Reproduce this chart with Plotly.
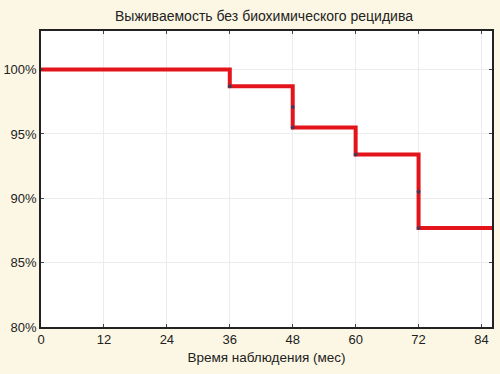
import plotly.graph_objects as go

step_times = [0, 36, 48, 60, 72, 86]
survival = [100.0, 98.7, 95.5, 93.4, 87.7, 87.7]
event_times = [36, 48, 48, 60, 72, 72]
event_surv = [98.7, 97.1, 95.5, 93.4, 90.5, 87.7]
x_ticks = [0, 12, 24, 36, 48, 60, 72, 84]
y_ticks = [80, 85, 90, 95, 100]
y_tick_labels = ["80%", "85%", "90%", "95%", "100%"]

fig = go.Figure()
fig.add_trace(go.Scatter(x=step_times, y=survival, mode="lines",
                         line=dict(color="#e3151b", width=4, shape="hv"),
                         hoverinfo="skip", showlegend=False))
fig.add_trace(go.Scatter(x=event_times, y=event_surv, mode="markers",
                         marker=dict(color="#4a3a5a", size=4),
                         showlegend=False))

fig.update_layout(
    width=500, height=374,
    paper_bgcolor="#fcf7e4", plot_bgcolor="white",
    margin=dict(l=41, r=8, t=31, b=47),
    font=dict(family="Liberation Sans, Arial, sans-serif", size=13, color="#222"),
    title=dict(text="Выживаемость без биохимического рецидива", x=0.528, xanchor="center",
               y=0.957, yanchor="middle", font=dict(size=14)),
)
fig.update_xaxes(range=[0, 86], tickvals=x_ticks, showgrid=True, gridcolor="#ececec",
                 showline=True, linecolor="#222", linewidth=1.5, mirror="ticks",
                 ticks="inside", ticklen=3, tickcolor="#444", zeroline=False,
                 automargin=False,
                 title=dict(text="Время наблюдения (мес)", font=dict(size=13.5), standoff=6))
fig.update_yaxes(range=[80, 103], tickvals=y_ticks, ticktext=y_tick_labels,
                 showgrid=True, gridcolor="#ececec", automargin=False,
                 showline=True, linecolor="#222", linewidth=1.5, mirror="ticks",
                 ticks="inside", ticklen=3, tickcolor="#444", zeroline=False)

fig.write_html("out.html", config={"displayModeBar": False},
               post_script="document.body.style.margin='0';document.body.style.background='#fcf7e4';")
